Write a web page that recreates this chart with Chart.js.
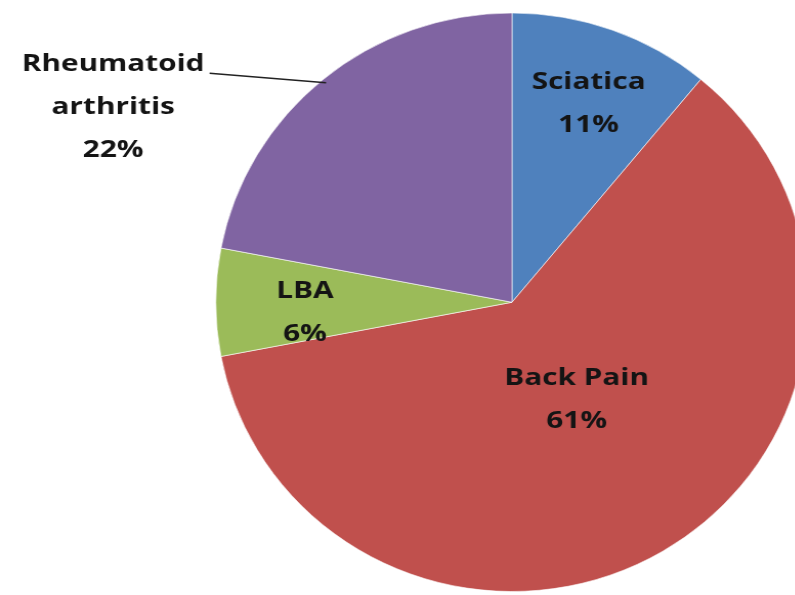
<!DOCTYPE html>
<html>
<head>
<meta charset="utf-8">
<script src="https://cdn.jsdelivr.net/npm/chart.js@4.4.1/dist/chart.umd.min.js"></script>
<style>
  html, body { margin: 0; padding: 0; background: #fff; overflow: hidden; }
  /* pie is a touch wider than tall, so the whole chart is widened a little */
  #wrap {
    position: relative; width: 1000px; height: 595px;
    transform: scaleX(1.024); transform-origin: 0 0;
  }
</style>
</head>
<body>
<div id="wrap"><canvas id="pie"></canvas></div>
<script>
const categories = ["Sciatica", "Back Pain", "LBA", "Rheumatoid arthritis"];
const shares = [11, 61, 6, 22];
const sliceColors = ["#4F81BD", "#C0504D", "#9BBB59", "#8064A2"];
// how each category name breaks over lines in its label
const labelLines = [["Sciatica"], ["Back Pain"], ["LBA"], ["Rheumatoid", "arthritis"]];

// label spot: fraction of the radius, and a turn in degrees off the slice middle
const labelPlacement = [
  { r: 0.735, turn: 0.8 },
  { r: 0.40, turn: -2.5 },
  { r: 0.70, turn: -2.9 },
  { r: 1.506, turn: -23.8, leader: { r: 0.985, turn: 0 } },
];

const FONT = "bold 24px 'Open Sans'";
const STRETCH = 1.21;
const LINE_H = 43;

const sliceLabels = {
  id: "sliceLabels",
  afterDatasetsDraw(chart) {
    const ctx = chart.ctx;
    const arcs = chart.getDatasetMeta(0).data;
    ctx.save();
    ctx.font = FONT;
    ctx.fillStyle = "#141414";
    ctx.textAlign = "center";
    ctx.textBaseline = "middle";
    arcs.forEach((arc, i) => {
      const p = labelPlacement[i];
      const mid = (arc.startAngle + arc.endAngle) / 2;
      const a = mid + p.turn * Math.PI / 180;
      const cx = arc.x + Math.cos(a) * arc.outerRadius * p.r;
      const cy = arc.y + Math.sin(a) * arc.outerRadius * p.r;
      const lines = [...labelLines[i], shares[i] + "%"];
      const top = cy - (lines.length - 1) * LINE_H / 2;
      lines.forEach((t, k) => {
        ctx.save();
        ctx.translate(cx, top + k * LINE_H);
        ctx.scale(STRETCH, 1);
        ctx.fillText(t, 0, 0);
        ctx.restore();
      });
      if (p.leader) {
        const w = ctx.measureText(lines[0]).width * STRETCH;
        const x0 = cx + w / 2 + 5;
        const y0 = top + 9;
        const b = mid + p.leader.turn * Math.PI / 180;
        const x1 = arc.x + Math.cos(b) * arc.outerRadius * p.leader.r;
        const y1 = arc.y + Math.sin(b) * arc.outerRadius * p.leader.r;
        ctx.beginPath();
        ctx.moveTo(x0, y0);
        ctx.lineTo(x1, y1);
        ctx.strokeStyle = "#222";
        ctx.lineWidth = 1.5;
        ctx.stroke();
      }
    });
    ctx.restore();
  }
};

new Chart(document.getElementById("pie"), {
  type: "pie",
  data: {
    labels: categories,
    datasets: [{
      data: shares,
      backgroundColor: sliceColors,
      borderColor: "rgba(255,255,255,0.6)",
      borderWidth: 1,
      hoverOffset: 0,
    }],
  },
  options: {
    responsive: true,
    maintainAspectRatio: false,
    animation: false,
    layout: { padding: { top: 12.5, bottom: 3, left: 0, right: 0 } },
    plugins: {
      legend: { display: false },
      tooltip: { enabled: false },
    },
  },
  plugins: [sliceLabels],
});
</script>
</body>
</html>
